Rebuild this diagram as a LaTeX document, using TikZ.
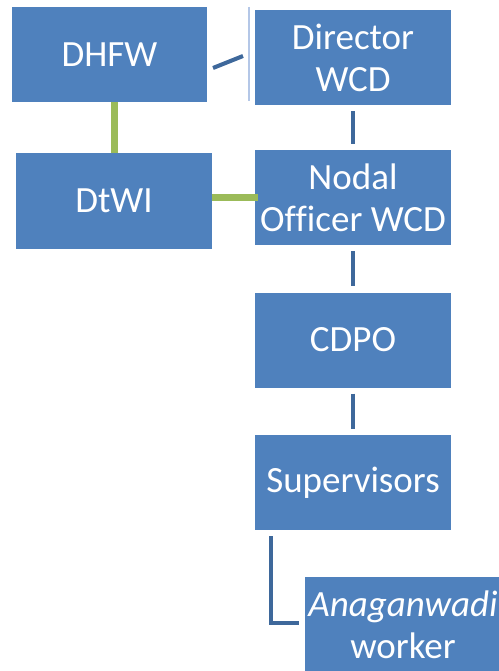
\documentclass[tikz,border=0pt]{standalone}
\usepackage{fontspec}
\setmainfont[Ligatures=NoCommon]{Carlito}
\definecolor{boxblue}{HTML}{4F81BD}
\definecolor{linkblue}{HTML}{3E689B}
\definecolor{linkgreen}{HTML}{9BBB59}
\definecolor{thinblue}{HTML}{B4C7E7}
\begin{document}
\begin{tikzpicture}[x=1pt,y=-1pt,
  orgbox/.style={fill=boxblue, draw=none, text=white, minimum width=196pt,
    minimum height=95pt, inner sep=0pt, align=center,
    font=\fontsize{37}{42}\selectfont},
  bluelink/.style={draw=linkblue, line width=4pt},
  greenlink/.style={draw=linkgreen, line width=7pt},
  thinline/.style={draw=thinblue, line width=1.5pt}]
\useasboundingbox (0,0) rectangle (498,671);
\node[orgbox, minimum width=195pt] (dhfw) at (109.5,54.5) {DHFW};
\node[orgbox] (director) at (353,57.5) {Director\\WCD};
\node[orgbox] (dtwi) at (114,201) {DtWI};
\node[orgbox] (nodal) at (353,197.5) {Nodal\\Officer WCD};
\node[orgbox] (cdpo) at (353,340) {CDPO};
\node[orgbox] (sup) at (353,482.5) {Supervisors};
\node[orgbox] (anag) at (403,624.5) {\itshape Anaganwadi\\worker};
% thin separator line
\coordinate (thinTop) at (249,7);
\coordinate (thinBot) at (249,101);
\draw[thinline] (thinTop) -- (thinBot);
% diagonal short link
\coordinate (diagA) at (213,68);
\coordinate (diagB) at (243,56);
\draw[bluelink] (diagA) -- (diagB);
% green links
\draw[greenlink] (dtwi.north) -- (dtwi.north |- dhfw.south);
\draw[greenlink] (dtwi.east |- nodal.west) -- ([xshift=3pt]nodal.west);
% blue vertical links
\draw[bluelink, shorten <=6pt, shorten >=6pt] (director.south) -- (nodal.north);
\draw[bluelink, shorten <=6pt, shorten >=6pt] (nodal.south) -- (cdpo.north);
\draw[bluelink, shorten <=6pt, shorten >=6pt] (cdpo.south) -- (sup.north);
% elbow to Anaganwadi
\coordinate (elbowStart) at ([xshift=16pt]sup.south west);
\draw[bluelink, shorten <=6pt, shorten >=6pt] (elbowStart) |- ([yshift=2pt]anag.west);
\end{tikzpicture}
\end{document}
